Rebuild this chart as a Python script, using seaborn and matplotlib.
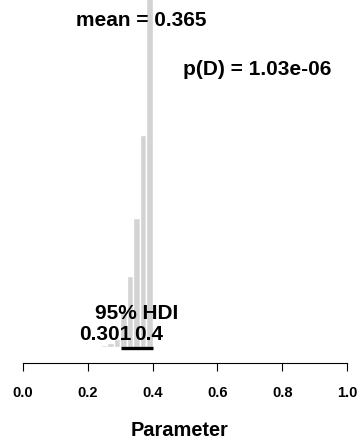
import numpy as np
import pandas as pd
import matplotlib
matplotlib.use("Agg")
import matplotlib.pyplot as plt
import seaborn as sns

# ---- data ----
bin_edges = [0.22, 0.24, 0.26, 0.28, 0.30, 0.32, 0.34, 0.36, 0.38, 0.40]
bin_counts = [0.6, 1.8, 3.8, 8.0, 35.0, 71.0, 129.0, 212.0, 420.0]
post_mean = 0.365
hdi_low = 0.301
hdi_high = 0.4
hdi_label = "95% HDI"
pd_label = "p(D) = 1.03e-06"
x_ticks = [0.0, 0.2, 0.4, 0.6, 0.8, 1.0]
x_tick_labels = ["0.0", "0.2", "0.4", "0.6", "0.8", "1.0"]
x_label = "Parameter"

sns.set_style("white")
plt.rcParams["font.family"] = ["Liberation Sans", "DejaVu Sans"]
plt.rcParams["text.color"] = "black"
plt.rcParams["xtick.color"] = "black"
plt.rcParams["axes.labelcolor"] = "black"

edges = np.array(bin_edges)
centers = (edges[:-1] + edges[1:]) / 2
df = pd.DataFrame({"value": centers, "count": bin_counts})

fig = plt.figure(figsize=(3.6, 4.43), dpi=100)
ax = fig.add_axes([23 / 360, 80 / 443, 324 / 360, 363 / 443])

sns.histplot(data=df, x="value", weights="count", bins=bin_edges, stat="count",
             color="#d3d3d3", alpha=1, edgecolor="white", linewidth=1.0, ax=ax)

ax.set_xlim(0, 1)
ax.set_ylim(-16, 347)
for s in ["left", "top", "right"]:
    ax.spines[s].set_visible(False)
ax.spines["bottom"].set_color("black")
ax.spines["bottom"].set_linewidth(0.8)
ax.set_yticks([])
ax.set_ylabel("")
ax.set_xlabel("")
ax.set_xticks(x_ticks)
ax.set_xticklabels(x_tick_labels, fontweight="bold", fontsize=10.5, color="black")
ax.tick_params(axis="x", direction="out", length=5.8, width=0.8, color="black",
               pad=10.5, bottom=True)

# HDI bar
ax.plot([hdi_low, hdi_high], [-1, -1], color="black", lw=2.4, solid_capstyle="butt",
        clip_on=False)

fs = 15
tkw = dict(fontsize=fs, fontweight="bold", color="black")
ax.text(post_mean, 321, f"mean = {post_mean}", ha="center", va="baseline", **tkw)
ax.text(0.494, 272, pd_label, ha="left", va="baseline", **tkw)
ax.text((hdi_low + hdi_high) / 2, 28, hdi_label, ha="center", va="baseline", **tkw)
ax.text(0.3335, 6.5, f"{hdi_low}", ha="right", va="baseline", **tkw)
ax.text(0.343, 6.5, f"{hdi_high}", ha="left", va="baseline", **tkw)

fig.text(180 / 360, 7 / 443, x_label, ha="center", va="baseline", fontsize=14.4,
         fontweight="bold", color="black")

fig.savefig("out.png", dpi=100)
